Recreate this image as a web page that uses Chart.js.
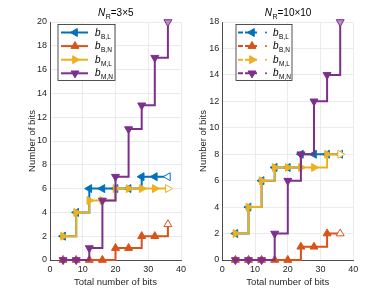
<!DOCTYPE html>
<html>
<head>
<meta charset="utf-8">
<script src="https://cdn.jsdelivr.net/npm/chart.js@4.4.0/dist/chart.umd.min.js"></script>
<style>
  html, body { margin: 0; padding: 0; background: #fff; }
  #wrap { position: relative; width: 390px; height: 293px; overflow: hidden; }
  canvas { position: absolute; top: 0; }
</style>
</head>
<body>
<div id="wrap">
  <canvas id="c1" width="195" height="293" style="left:0"></canvas>
  <canvas id="c2" width="195" height="293" style="left:195px"></canvas>
</div>
<script>
const totalBits = [4, 8, 12, 16, 20, 24, 28, 32, 36];
const seriesNames = ['B,L', 'B,N', 'M,L', 'M,N'];

// N_R = 3x5
const bBL_3x5 = [2, 4, 6, 6, 6, 6, 7, 7, 7];
const bBN_3x5 = [0, 0, 0, 0, 1, 1, 2, 2, 3];
const bML_3x5 = [2, 4, 5, 5, 6, 6, 6, 6, 6];
const bMN_3x5 = [0, 0, 1, 5, 7, 11, 13, 17, 20];

// N_R = 10x10
const bBL_10x10 = [2, 4, 6, 7, 7, 8, 8, 8, 8];
const bBN_10x10 = [0, 0, 0, 0, 0, 1, 1, 2, 2];
const bML_10x10 = [2, 4, 6, 7, 7, 7, 7, 8, 8];
const bMN_10x10 = [0, 0, 0, 2, 6, 8, 12, 14, 18];

const FONT = '"Liberation Sans", Arial, sans-serif';
const colors = ['#0072BD', '#D95319', '#EDB120', '#7E2F8E'];
const lastFace = ['#ffffff', '#ffffff', '#ffffff', '#b48ec0'];
const rotations = [-90, 0, 90, 180];

function makeDatasets(series) {
  return series.map((vals, i) => ({
    label: seriesNames[i],
    data: totalBits.map((x, k) => ({ x: x, y: vals[k] })),
    borderColor: colors[i],
    borderWidth: 2,
    stepped: true, // horizontal first, then vertical (like MATLAB stairs)
    pointStyle: 'triangle',
    rotation: rotations[i],
    pointRadius: 4.6,
    pointBorderWidth: 1,
    pointBorderColor: colors[i],
    pointBackgroundColor: vals.map((v, k) => k === vals.length - 1 ? lastFace[i] : colors[i]),
    order: 4 - i,
    clip: false,
  }));
}

// title (N_R=...) and boxed legend, drawn MATLAB-like
const matlabDeco = {
  id: 'matlabDeco',
  afterDraw(chart, args, opts) {
    const ctx = chart.ctx, area = chart.chartArea;
    ctx.save();
    ctx.textBaseline = 'alphabetic';
    ctx.fillStyle = '#000';

    // title
    const fN = 'italic 10px ' + FONT, fS = '7px ' + FONT, fM = '10px ' + FONT;
    ctx.font = fN; const wN = ctx.measureText('N').width;
    ctx.font = fS; const wS = ctx.measureText('R').width;
    ctx.font = fM; const wM = ctx.measureText(opts.tail).width;
    let tx = (area.left + area.right) / 2 - (wN + wS + wM) / 2;
    ctx.font = fN; ctx.fillText('N', tx, 16); tx += wN + 0.5;
    ctx.font = fS; ctx.fillText('R', tx, 19); tx += wS;
    ctx.font = fM; ctx.fillText(opts.tail, tx, 16);

    // legend
    const lx = area.left + opts.legendDx, ly = area.top + 2.5, lw = opts.legendW, lh = 56;
    ctx.fillStyle = '#fff';
    ctx.fillRect(lx, ly, lw, lh);
    ctx.strokeStyle = '#262626';
    ctx.lineWidth = 0.8;
    ctx.strokeRect(lx, ly, lw, lh);

    chart.data.datasets.forEach((ds, i) => {
      const y = ly + 8 + i * 13.6;
      ctx.strokeStyle = colors[i];
      ctx.fillStyle = colors[i];
      ctx.lineWidth = 2;
      let mx;
      if (opts.dashed) {
        ctx.setLineDash([5, 2]);
        ctx.beginPath(); ctx.moveTo(lx + 2, y); ctx.lineTo(lx + 22, y); ctx.stroke();
        ctx.setLineDash([]);
        mx = lx + 16;
        ctx.beginPath(); ctx.arc(lx + 30, y, 1, 0, Math.PI * 2); ctx.fill();
      } else {
        ctx.beginPath(); ctx.moveTo(lx + 3, y); ctx.lineTo(lx + 30, y); ctx.stroke();
        mx = lx + 17;
      }
      ctx.lineWidth = 1;
      Chart.helpers.drawPoint(ctx, { pointStyle: 'triangle', radius: 4.6, rotation: rotations[i], borderWidth: 1 }, mx, y);

      ctx.fillStyle = '#000';
      ctx.font = 'italic 10px ' + FONT;
      ctx.fillText('b', lx + 37, y + 3);
      ctx.font = '6.5px ' + FONT;
      ctx.fillText(seriesNames[i], lx + 43, y + 6);
    });
    ctx.restore();
  }
};

function makeChart(id, series, yMax, cfg) {
  return new Chart(document.getElementById(id), {
    type: 'line',
    data: { datasets: makeDatasets(series) },
    plugins: [matlabDeco],
    options: {
      responsive: false,
      animation: false,
      devicePixelRatio: 1,
      layout: { padding: { left: 0, right: cfg.padRight, top: 22, bottom: 0 } },
      plugins: {
        legend: { display: false },
        tooltip: { enabled: false },
        matlabDeco: { tail: cfg.tail, legendDx: cfg.legendDx, legendW: cfg.legendW, dashed: cfg.dashed },
      },
      scales: {
        x: {
          type: 'linear', min: 0, max: 40,
          ticks: { stepSize: 10, color: '#262626', font: { family: FONT, size: 9 }, padding: 4, maxRotation: 0 },
          grid: { color: '#e6e6e6', lineWidth: 0.8, drawTicks: false },
          border: { color: '#262626', width: 0.8 },
          title: { display: true, text: 'Total number of bits', color: '#262626', font: { family: FONT, size: 9.5 }, padding: { top: 0, bottom: 5.3 } },
          afterFit: s => { s.height = 33; },
        },
        y: {
          type: 'linear', min: 0, max: yMax,
          ticks: { stepSize: 2, color: '#262626', font: { family: FONT, size: 9 }, padding: 3 },
          grid: { color: '#e6e6e6', lineWidth: 0.8, drawTicks: false },
          border: { color: '#262626', width: 0.8 },
          title: { display: true, text: 'Number of bits', color: '#262626', font: { family: FONT, size: 9.5 }, padding: { top: cfg.yTitleOffset - 5.7, bottom: 0 } },
          afterFit: s => { s.width = cfg.yWidth; },
        },
      },
    },
  });
}

makeChart('c1', [bBL_3x5, bBN_3x5, bML_3x5, bMN_3x5], 20,
  { padRight: 14, yWidth: 50, yTitleOffset: 32, tail: '=3\u00d75', legendDx: 8, legendW: 57, dashed: false });
makeChart('c2', [bBL_10x10, bBN_10x10, bML_10x10, bMN_10x10], 18,
  { padRight: 36.7, yWidth: 27.3, yTitleOffset: 8, tail: '=10\u00d710', legendDx: 13.7, legendW: 56, dashed: true });
</script>
</body>
</html>
